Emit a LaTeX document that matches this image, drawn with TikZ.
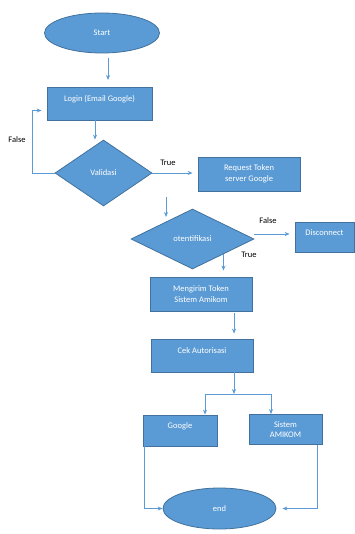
\documentclass[tikz,border=0pt]{standalone}
\usepackage{fontspec}
\setmainfont{Carlito}
\usetikzlibrary{shapes.geometric,arrows.meta}
\definecolor{boxblue}{HTML}{5B9BD5}
\definecolor{edgeblue}{HTML}{41719C}
\newcommand{\hurufkecil}{\fontsize{8.5}{10.5}\selectfont}
\tikzset{
    blok/.style={rectangle, draw=edgeblue, fill=boxblue, line width=0.8pt, text=white, align=center, font=\hurufkecil},
    oval/.style={ellipse, draw=edgeblue, fill=boxblue, line width=0.8pt, text=white, font=\hurufkecil},
    keputusan/.style={diamond, draw=edgeblue, fill=boxblue, line width=0.8pt, text=white, font=\hurufkecil, inner sep=0pt},
    naik/.style={text height=6pt, text depth=10pt},
    alur/.style={draw=boxblue, line width=0.8pt, -{Stealth[length=5pt,width=4pt]}},
    ket/.style={font=\hurufkecil, text=black}
}
\begin{document}
\begin{tikzpicture}[x=1pt,y=-1pt]
    \useasboundingbox (0,0) rectangle (355,534);

        \node[oval, minimum width=115pt, minimum height=40pt] (start) at (102,33) {Start};
        \node[blok, naik, minimum width=105pt, minimum height=33pt] (login) at (99.5,103.5) {Login (Email Google)};
        \node[keputusan, minimum width=97pt, minimum height=66pt] (validasi) at (103.5,173) {Validasi};
        \node[blok, minimum width=102pt, minimum height=34pt] (request) at (249,174) {Request Token\\server Google};
        \node[keputusan, minimum width=123pt, minimum height=60pt] (otentifikasi) at (192.5,239) {otentifikasi};
        \node[blok, naik, minimum width=59pt, minimum height=30pt] (disconnect) at (324.5,237) {Disconnect};
        \node[blok, minimum width=102pt, minimum height=34pt] (mengirim) at (201,294) {Mengirim Token\\Sistem Amikom};
        \node[blok, naik, minimum width=102pt, minimum height=33pt] (cek) at (202,355.5) {Cek Autorisasi};
        \node[blok, naik, minimum width=74pt, minimum height=31pt] (google) at (180,430.5) {Google};
        \node[blok, minimum width=73pt, minimum height=30pt] (sistem) at (285.5,429.5) {Sistem\\AMIKOM};
        \node[oval, minimum width=113pt, minimum height=41pt] (selesai) at (219.5,508.5) {end};

        \coordinate (s1) at (108,58);
        \coordinate (s2) at (108,80);
        \coordinate (r1) at (166,197);
        \coordinate (r2) at (166,217);
        \coordinate (cabang) at (234,394);

        \draw[alur] (s1) -- (s2);
        \draw[alur] ([xshift=-4.5pt]login.south) -- ([xshift=-4.5pt]login.south |- validasi.north);
        \draw[alur] (validasi.west) -- ++(-22,0) |- ([shift={(-5,7)}]login.west);
        \draw[alur, shorten >=5pt] (validasi.east) -- (validasi.east -| request.west);
        \draw[alur] (r1) -- (r2);
        \draw[alur, shorten >=5pt] ([yshift=5pt]otentifikasi.east) -- ([yshift=5pt]otentifikasi.east -| disconnect.west);
        \draw[alur, shorten >=6pt] (otentifikasi.south east) -- (otentifikasi.south east |- mengirim.north);
        \draw[alur, shorten <=2pt, shorten >=5pt] ([xshift=33pt]mengirim.south) -- ([xshift=33pt]mengirim.south |- cek.north);
        \draw[alur] ([xshift=32pt]cek.south) -- (cabang);
        \draw[alur] (cabang) -| ([xshift=25pt]google.north);
        \draw[alur] (cabang) -| ([xshift=-14.5pt]sistem.north);
        \draw[alur] ([xshift=2pt]google.south west) |- (selesai.west);
        \draw[alur, shorten >=6pt] ([xshift=-5pt]sistem.south east) |- (selesai.east);

        \node[ket] (lfalse1) at (17,140) {False};
        \node[ket] (ltrue1) at (168,163) {True};
        \node[ket] (lfalse2) at (268,221) {False};
        \node[ket] (ltrue2) at (249,255) {True};

\end{tikzpicture}
\end{document}
